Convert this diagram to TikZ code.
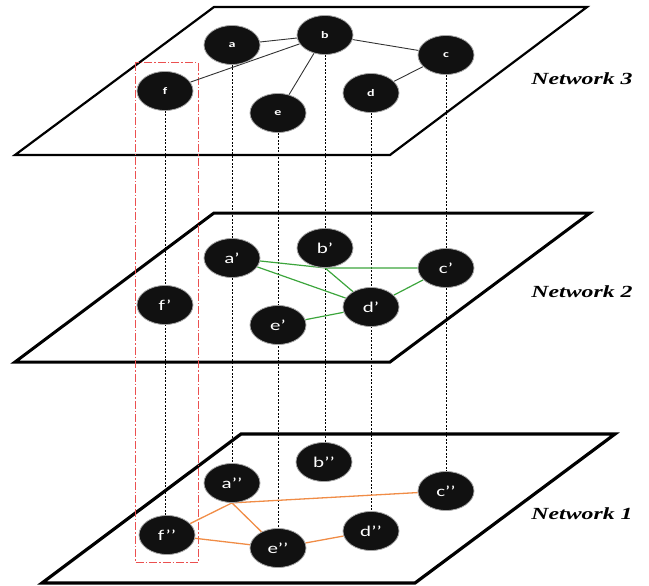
\documentclass[tikz,border=0pt]{standalone}
\usepackage{fontspec}
\setmainfont{Liberation Serif}
\newfontfamily\lblfont{Carlito}
\usetikzlibrary{shapes.geometric,backgrounds}
\definecolor{nodeblack}{RGB}{17,17,17}
\definecolor{edgegreen}{RGB}{60,165,60}
\definecolor{edgeorange}{RGB}{240,140,70}
\definecolor{boxred}{RGB}{235,80,80}
\newcommand\hstretch[1]{\scalebox{1.4}[1]{#1}}
\begin{document}
\begin{tikzpicture}[x=1pt,y=-1pt,
  netnode/.style={ellipse, fill=nodeblack, draw=gray!70, line width=0.8pt,
    minimum width=56pt, minimum height=39pt, inner sep=0pt, text=white},
  toplbl/.style={font=\lblfont\fontsize{10}{10}\selectfont\bfseries},
  lowlbl/.style={font=\lblfont\fontsize{15}{15}\selectfont},
  planeline/.style={line width=#1, line join=miter},
  vlink/.style={black, line width=0.8pt, dash pattern=on 2pt off 1.5pt},
  redbox/.style={boxred, line width=1pt, dash pattern=on 8pt off 2pt on 1.5pt off 2pt},
  blackedge/.style={black!80, line width=0.9pt},
  greenedge/.style={edgegreen, line width=1.2pt},
  orangeedge/.style={edgeorange, line width=1.3pt},
  netlbl/.style={font=\fontsize{17}{17}\selectfont\bfseries\itshape, inner sep=0pt}
]
\useasboundingbox (0,0) rectangle (649,586);

% Network 3 nodes
\node[netnode, toplbl] (a) at (232,45) {\hstretch{a}};
\node[netnode, toplbl] (b) at (325,35) {\hstretch{b}};
\node[netnode, toplbl] (c) at (446,55) {\hstretch{c}};
\node[netnode, toplbl] (d) at (371,93) {\hstretch{d}};
\node[netnode, toplbl] (e) at (278,113) {\hstretch{e}};
\node[netnode, toplbl] (f) at (165,91) {\hstretch{f}};

% Network 2 nodes
\node[netnode, lowlbl] (a2) at (232,258) {\hstretch{a’}};
\node[netnode, lowlbl] (b2) at (325,248) {\hstretch{b’}};
\node[netnode, lowlbl] (c2) at (446,268) {\hstretch{c’}};
\node[netnode, lowlbl] (d2) at (371,307) {\hstretch{d’}};
\node[netnode, lowlbl] (e2) at (278,325) {\hstretch{e’}};
\node[netnode, lowlbl] (f2) at (165,305) {\hstretch{f’}};

% Network 1 nodes
\node[netnode, lowlbl] (a1) at (232,483) {\hstretch{a’’}};
\node[netnode, lowlbl] (b1) at (324,462) {\hstretch{b’’}};
\node[netnode, lowlbl] (c1) at (446,491) {\hstretch{c’’}};
\node[netnode, lowlbl] (d1) at (371,531) {\hstretch{d’’}};
\node[netnode, lowlbl] (e1) at (278,548) {\hstretch{e’’}};
\node[netnode, lowlbl] (f1) at (167,535) {\hstretch{f’’}};

% labels
\node[netlbl] (n3) at (582,79) {\hstretch{Network 3}};
\node[netlbl] (n2) at (582,292) {\hstretch{Network 2}};
\node[netlbl] (n1) at (582,514) {\hstretch{Network 1}};

\begin{scope}[on background layer]
  % planes
  \draw[planeline=2.2pt] (214,7) -- (587,7) -- (390,155) -- (15,155) -- cycle;
  \draw[planeline=3pt] (214,213) -- (590,213) -- (390,362) -- (15,362) -- cycle;
  \draw[planeline=3.2pt] (241,434) -- (615,434) -- (415,583) -- (42,583) -- cycle;
  % vertical links
  \foreach \n/\m in {a/a1, b/b1, c/c1, d/d1, e/e1, f/f1}
    \draw[vlink] (\n.south) -- (\n.south |- \m.north);
  % red box
  \draw[redbox] (135,63) rectangle (198,562);
  % edges of network 3
  \draw[blackedge] (a) -- (b);
  \draw[blackedge] (f) -- (b);
  \draw[blackedge] (e) -- (b);
  \draw[blackedge] (b) -- (c);
  \draw[blackedge] (c) -- (d);
  % edges of network 2
  \draw[greenedge] (a2) -- (b2.south);
  \draw[greenedge] (b2.south) -- (c2);
  \draw[greenedge] (b2.south) -- (d2);
  \draw[greenedge] (a2) -- (d2);
  \draw[greenedge] (c2) -- (d2);
  \draw[greenedge] (e2) -- (d2);
  % edges of network 1
  \draw[orangeedge] (a1.south) -- (c1);
  \draw[orangeedge] (a1.south) -- (f1);
  \draw[orangeedge] (a1.south) -- (e1);
  \draw[orangeedge] (f1) -- (e1);
  \draw[orangeedge] (e1) -- (d1);
\end{scope}
\end{tikzpicture}
\end{document}
